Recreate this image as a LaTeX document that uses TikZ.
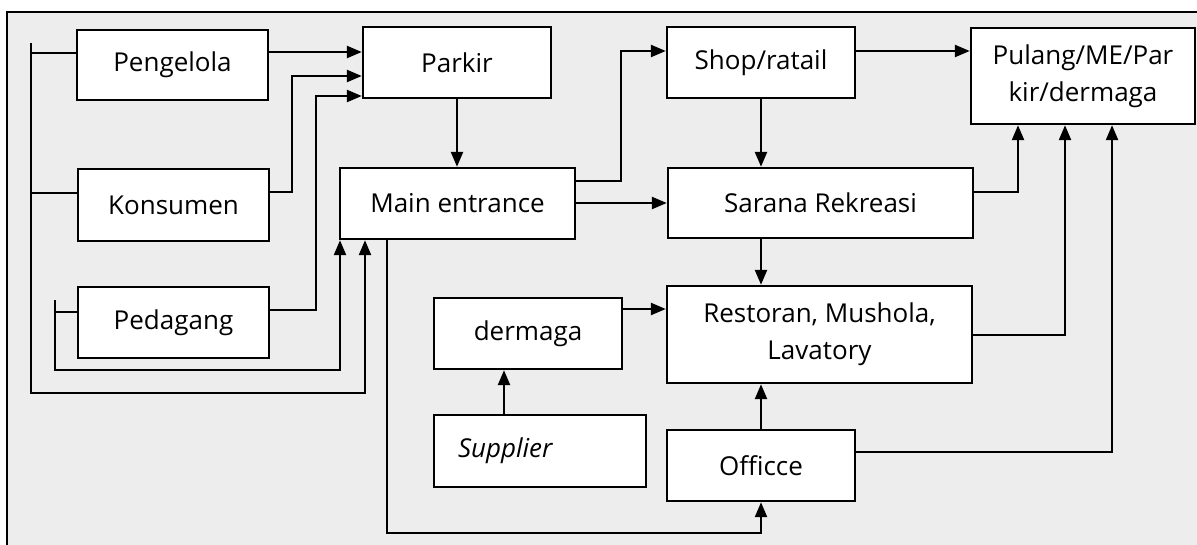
\documentclass[tikz,border=0pt]{standalone}
\usepackage{fontspec}
\setmainfont{Open Sans}
\usetikzlibrary{arrows.meta}
\begin{document}
\begin{tikzpicture}[x=0.5pt,y=-0.5pt,line width=1.2pt,>={Triangle[length=7.5pt,width=6pt]},
    blok/.style={draw,fill=white,inner sep=0pt,align=center,
      font=\fontsize{13}{18.5}\selectfont}]
    \useasboundingbox (0,0) rectangle (1197,545);
    \fill[gray!14] (7,12) rectangle (1197,545);
    \draw (1197,12) -- (7,12) -- (7,545);
    % left column
    \node[blok,minimum width=95.5pt,minimum height=35pt] (pengelola) at (172.5,65) {Pengelola};
    \node[blok,minimum width=95.5pt,minimum height=36pt] (konsumen) at (173.5,205) {Konsumen};
    \node[blok,minimum width=95.5pt,minimum height=35.5pt] (pedagang) at (173.5,322.5) {Pedagang};
    % middle
    \node[blok,minimum width=94pt,minimum height=35.5pt] (parkir) at (457,62.5) {Parkir};
    \node[blok,minimum width=117.5pt,minimum height=35.5pt] (entrance) at (457.5,203.5) {Main entrance};
    \node[blok,minimum width=94pt,minimum height=35.5pt] (dermaga) at (528,333.5) {dermaga};
    \node[blok,minimum width=106pt,minimum height=36pt,text width=82pt,align=left,
      inner xsep=12pt] (supplier) at (540,451) {\textit{Supplier}};
    % right
    \node[blok,minimum width=94pt,minimum height=35.5pt] (shop) at (761,62.5) {Shop/ratail};
    \node[blok,minimum width=152.5pt,minimum height=35pt] (sarana) at (820.5,203) {Sarana Rekreasi};
    \node[blok,minimum width=152.5pt,minimum height=48.5pt] (restoran) at (819.5,334.5)
      {Restoran, Mushola,\\Lavatory};
    \node[blok,minimum width=94pt,minimum height=35.5pt] (office) at (761,465.5) {Officce};
    \node[blok,minimum width=112pt,minimum height=48pt] (pulang) at (1083,76)
      {Pulang/ME/Par\\kir/dermaga};
    % into Parkir
    \draw[->] (pengelola.east |- 0,52) -- (parkir.west |- 0,52);
    \draw[->] (konsumen.east |- 0,192) -| (292,76) -- (parkir.west |- 0,76);
    \draw[->] (pedagang.east |- 0,310) -| (316,96) -- (parkir.west |- 0,96);
    \draw[->] (parkir.south) -- (parkir.south |- entrance.north);
    % back to Main entrance
    \draw (31,43) -- (31,53);
    \draw (konsumen.west |- 0,193) -- (31,193);
    \draw[->] (pengelola.west |- 0,53) -| (31,393) -| (365,0 |- entrance.south);
    \draw (55,300) -- (55,312);
    \draw[->] (pedagang.west |- 0,312) -| (55,370) -| (340,0 |- entrance.south);
    \draw[->] (387,0 |- entrance.south) -- (387,533) -| (office.south);
    % from Main entrance
    \draw[->] (entrance.east |- 0,181) -| (621,51) -- (shop.west |- 0,51);
    \draw[->] (entrance.east |- 0,203) -- (sarana.west |- 0,203);
    \draw[->] (shop.south) -- (shop.south |- sarana.north);
    \draw[->] (761,0 |- sarana.south) -- (761,0 |- restoran.north);
    \draw[->] (supplier.north -| 504,0) -- (dermaga.south -| 504,0);
    \draw[->] (dermaga.east |- 0,309) -- (restoran.west |- 0,309);
    \draw[->] (office.north) -- (office.north |- restoran.south);
    % to Pulang
    \draw[->] (shop.east |- 0,51) -- (pulang.west |- 0,51);
    \draw[->] (sarana.east |- 0,192) -| (1018,0 |- pulang.south);
    \draw[->] (restoran.east |- 0,335) -| (1065,0 |- pulang.south);
    \draw[->] (office.east |- 0,452) -| (1112,0 |- pulang.south);
  \end{tikzpicture}
\end{document}
